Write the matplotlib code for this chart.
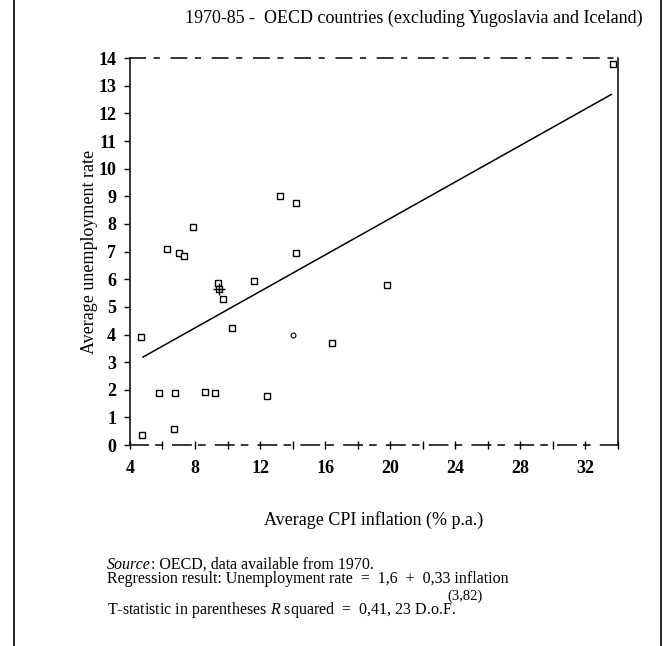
import matplotlib
matplotlib.use("Agg")
import matplotlib.pyplot as plt
import numpy as np
from matplotlib.ticker import MultipleLocator

plt.rcParams['font.family'] = ['Liberation Serif', 'DejaVu Serif']
plt.rcParams['mathtext.fontset'] = 'custom'
plt.rcParams['mathtext.it'] = 'Liberation Serif:italic'
plt.rcParams['mathtext.rm'] = 'Liberation Serif'

# Inflation (% p.a.) and unemployment (%) per country, 1970-85 averages
inflation = [33.7, 13.2, 14.2, 7.9, 6.3, 7.0, 7.3, 14.2, 9.4, 9.5,
             9.7, 11.6, 19.8, 4.7, 10.3, 16.4, 5.8, 6.8, 8.6, 9.2,
             12.4, 6.7, 4.75, 14.0]
unemployment = [13.8, 9.0, 8.75, 7.9, 7.1, 6.95, 6.85, 6.95, 5.85, 5.65,
                5.3, 5.95, 5.8, 3.9, 4.25, 3.7, 1.9, 1.9, 1.92, 1.88,
                1.77, 0.6, 0.35, 4.0]
# one country drawn with a circle instead of a square
circle_x = [14.0]
circle_y = [4.0]

# regression: unemployment = 1.6 + 0.33 * inflation
intercept, slope = 1.6, 0.33
line_x = np.array([4.8, 33.6])

fig = plt.figure(figsize=(6.63, 6.46), dpi=100)
ax = fig.add_axes([0.196, 0.311, 0.736, 0.599])

ax.plot(inflation[:-1], unemployment[:-1], linestyle='none', marker='s',
        markersize=5, markerfacecolor='white', markeredgecolor='black',
        markeredgewidth=1.0)
ax.plot(circle_x, circle_y, linestyle='none', marker='o', markersize=3.5,
        markerfacecolor='white', markeredgecolor='black', markeredgewidth=0.8)
ax.plot([9.5], [5.65], marker='+', markersize=8, color='black', mew=1.0)
ax.plot(line_x, intercept + slope * line_x, color='black', linewidth=1.1)

ax.set_xlim(4, 34)
ax.set_ylim(0, 14)
ax.xaxis.set_major_locator(MultipleLocator(4))
ax.xaxis.set_minor_locator(MultipleLocator(2))
ax.yaxis.set_major_locator(MultipleLocator(1))
ax.set_xticks(range(4, 33, 4))

for lbl in ax.get_xticklabels() + ax.get_yticklabels():
    lbl.set_fontweight('bold')
    lbl.set_fontsize(13)

ax.tick_params(axis='x', which='both', direction='inout', length=6, width=1, pad=8)
ax.tick_params(axis='y', direction='out', length=4, width=1, pad=6)

ax.spines['top'].set_linestyle((0, (10, 6, 3, 8)))
ax.spines['bottom'].set_linestyle((0, (12, 5, 4, 7)))
for s in ax.spines.values():
    s.set_linewidth(1.1)

ax.set_ylabel('Average unemployment rate', fontsize=13, labelpad=0)
ax.set_xlabel('Average CPI inflation (% p.a.)', fontsize=13, labelpad=24)

fig.text(0.624, 0.972, '1970-85 -  OECD countries (excluding Yugoslavia and Iceland)',
         ha='center', va='center', fontsize=13)

# notes under the chart
src = fig.text(0.161, 0.126, 'Source', style='italic', fontsize=11.5, va='center')
ax.annotate(': OECD, data available from 1970.', xy=(1, 0.5), xycoords=src,
            fontsize=11.5, va='center', ha='left')
fig.text(0.161, 0.103, 'Regression result: Unemployment rate  =  1,6  +  0,33 inflation',
         fontsize=11.5, va='center')
fig.text(0.702, 0.0775, '(3,82)', ha='center', fontsize=10.5, va='center')
fig.text(0.161, 0.056, 'T-statistic in parentheses $R$ squared  =  0,41, 23 D.o.F.',
         fontsize=11.5, va='center')

# page frame at left and right
fig.add_artist(plt.Line2D([0.021, 0.021], [0, 1], color='black', lw=1.2,
                          transform=fig.transFigure))
fig.add_artist(plt.Line2D([0.997, 0.997], [0, 1], color='black', lw=1.2,
                          transform=fig.transFigure))

fig.savefig('out.png', dpi=100)
